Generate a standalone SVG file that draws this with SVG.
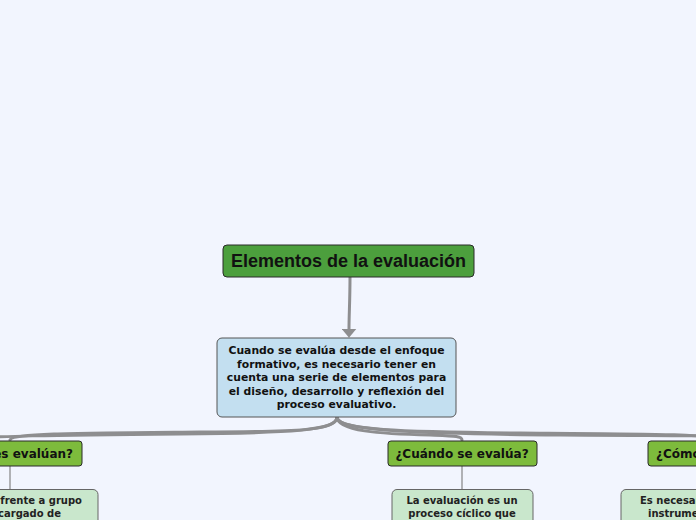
<svg xmlns="http://www.w3.org/2000/svg" width="696" height="520" viewBox="0 0 696 520">
<style>
.bg{fill:#f2f5fe}
.conn{fill:none;stroke:#8e8e90;stroke-width:3;stroke-linecap:round}
.arrow{fill:none;stroke:#8e8e90;stroke-width:3;stroke-linecap:butt}
.thin{fill:none;stroke:#9a9a9c;stroke-width:1.5}
.root rect{fill:#4c9f3d;stroke:#2a2a2a;stroke-width:1}
.root text{font-family:"Liberation Sans",Arial,sans-serif;font-weight:bold;font-size:18px;fill:#111;text-anchor:middle}
.main rect{fill:#c3dff0;stroke:#555;stroke-width:1}
.main text{font-family:"DejaVu Sans",Verdana,sans-serif;font-weight:bold;font-size:10.8px;fill:#111;text-anchor:middle}
.topic rect{fill:#7dbb3c;stroke:#2a2a2a;stroke-width:1}
.topic text{font-family:"DejaVu Sans",Verdana,sans-serif;font-weight:bold;font-size:12px;fill:#111}
.sub rect{fill:#c9e7cc;stroke:#666;stroke-width:1}
.sub text{font-family:"DejaVu Sans",Verdana,sans-serif;font-weight:bold;font-size:10px;fill:#222}
</style>
<defs>
<marker id="arr" markerWidth="3" markerHeight="5" refX="0.1" refY="2.5" orient="auto" markerUnits="strokeWidth">
<path d="M0,0 L3,2.5 L0,5 Z" fill="#8e8e90"/>
</marker>
</defs>
<rect class="bg" x="0" y="0" width="696" height="520"/>
<g id="connectors">
<path class="arrow" d="M350,277 C350,300 349,315 349,329" marker-end="url(#arr)"/>
<path class="conn" d="M337,417 C337,430 300,432 200,432 C80,433 12,433 10,440"/>
<path class="conn" d="M337,417 C337,431 290,433 180,434 C60,435 -20,436 -40,440"/>
<path class="conn" d="M337,417 C337,431 380,434 430,435 C455,436 462,436 462,440"/>
<path class="conn" d="M337,417 C337,430 400,432 520,433 C650,434 715,434 720,440"/>
<path class="conn" d="M337,417 C337,431 420,434 560,435 C700,436 880,436 900,440"/>
<path class="thin" d="M462,466 V489"/>
<path class="thin" d="M10,466 V489"/>
</g>
<g id="root" class="root">
<rect x="223" y="245" width="251" height="32" rx="4"/>
<text x="348.5" y="267">Elementos de la evaluación</text>
</g>
<g id="main" class="main">
<rect x="217" y="338" width="239" height="79" rx="5"/>
<text x="336.5" y="354">Cuando se evalúa desde el enfoque</text>
<text x="336.5" y="367.5">formativo, es necesario tener en</text>
<text x="336.5" y="381">cuenta una serie de elementos para</text>
<text x="336.5" y="394.5">el diseño, desarrollo y reflexión del</text>
<text x="336.5" y="408">proceso evaluativo.</text>
</g>
<g id="quienes" class="topic">
<rect x="-64" y="441" width="146" height="25" rx="3"/>
<text x="73" y="458" text-anchor="end">¿Quiénes evalúan?</text>
</g>
<g id="cuando" class="topic">
<rect x="388" y="441" width="149" height="25" rx="3"/>
<text x="462" y="458" text-anchor="middle">¿Cuándo se evalúa?</text>
</g>
<g id="como" class="topic">
<rect x="648" y="441" width="140" height="25" rx="3"/>
<text x="656" y="458" text-anchor="start">¿Cómo se evalúa?</text>
</g>
<g id="quienes-sub" class="sub">
<rect x="-80" y="489.5" width="178" height="50" rx="5"/>
<text x="82" y="504" text-anchor="end">El docente frente a grupo</text>
<text x="61" y="517" text-anchor="end">es el encargado de</text>
</g>
<g id="cuando-sub" class="sub">
<rect x="392" y="489.5" width="141" height="50" rx="5"/>
<text x="462" y="504" text-anchor="middle">La evaluación es un</text>
<text x="462" y="517" text-anchor="middle">proceso cíclico que</text>
</g>
<g id="como-sub" class="sub">
<rect x="621" y="489.5" width="180" height="50" rx="5"/>
<text x="640" y="504" text-anchor="start">Es necesario utilizar</text>
<text x="648" y="517" text-anchor="start">instrumentos de</text>
</g>
</svg>
